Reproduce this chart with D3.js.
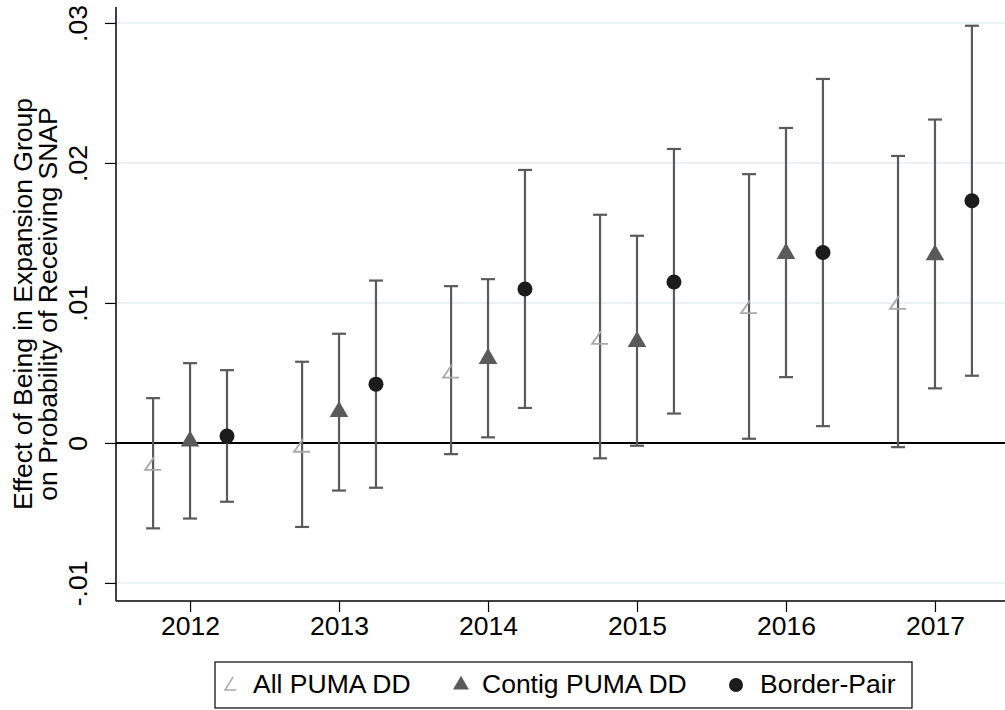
<!DOCTYPE html>
<html>
<head>
<meta charset="utf-8">
<script src="https://cdn.jsdelivr.net/npm/d3@7"></script>
<style>
  body { margin: 0; background: #fff; }
  text { font-family: "Liberation Sans", Arial, sans-serif; }
</style>
</head>
<body>
<div id="chart"></div>
<script>
const width = 1005;
const height = 710;

// years and estimates (point, ci low, ci high)
const years = [2012, 2013, 2014, 2015, 2016, 2017];
const allPuma = [-0.0015, -0.0002, 0.0051, 0.0075, 0.0097, 0.0100];
const allPumaLo = [-0.0061, -0.0060, -0.0008, -0.0011, 0.0003, -0.0003];
const allPumaHi = [0.0032, 0.0058, 0.0112, 0.0163, 0.0192, 0.0205];
const contig = [0.0002, 0.0023, 0.0061, 0.0073, 0.0136, 0.0135];
const contigLo = [-0.0054, -0.0034, 0.0004, -0.0002, 0.0047, 0.0039];
const contigHi = [0.0057, 0.0078, 0.0117, 0.0148, 0.0225, 0.0231];
const border = [0.0005, 0.0042, 0.0110, 0.0115, 0.0136, 0.0173];
const borderLo = [-0.0042, -0.0032, 0.0025, 0.0021, 0.0012, 0.0048];
const borderHi = [0.0052, 0.0116, 0.0195, 0.0210, 0.0260, 0.0298];
const yTicks = [-0.01, 0, 0.01, 0.02, 0.03];
const yTickLabels = ["-.01", "0", ".01", ".02", ".03"];
const seriesNames = ["All PUMA DD", "Contig PUMA DD", "Border-Pair"];

// plot area edges
const plotL = 116, plotT = 7, plotR = 1005, plotB = 601;
const fs = 26.5;

const svg = d3.select("#chart")
  .append("svg")
  .attr("width", width)
  .attr("height", height);

const x = d3.scaleLinear()
  .domain([2011.503, 2017.47])
  .range([plotL, plotR]);

const y = d3.scaleLinear()
  .domain([-0.01129, 0.03114])
  .range([plotB, plotT]);

// gridlines
svg.append("g")
  .selectAll("line")
  .data(yTicks)
  .join("line")
  .attr("x1", plotL).attr("x2", plotR)
  .attr("y1", d => y(d)).attr("y2", d => y(d))
  .attr("stroke", "#e6eef1")
  .attr("stroke-width", 1.5);

// zero line
svg.append("line")
  .attr("x1", plotL).attr("x2", plotR)
  .attr("y1", y(0)).attr("y2", y(0))
  .attr("stroke", "#000")
  .attr("stroke-width", 2);

// y axis
const yAxis = svg.append("g")
  .attr("transform", `translate(${plotL},0)`)
  .call(d3.axisLeft(y).tickValues(yTicks).tickSize(11).tickFormat((d, i) => yTickLabels[i]));
yAxis.attr("font-size", fs).attr("font-family", null);
yAxis.select(".domain").attr("stroke", "#000").attr("stroke-width", 1.5)
  .attr("d", `M0,${plotT}V${plotB}`);
yAxis.selectAll(".tick line").attr("stroke", "#000").attr("stroke-width", 1.2);
yAxis.selectAll(".tick text")
  .attr("fill", "#000")
  .attr("text-anchor", "middle")
  .attr("x", 0).attr("dy", 0)
  .attr("transform", "translate(-29,0) rotate(-90)");

// x axis
const xAxis = svg.append("g")
  .attr("transform", `translate(0,${plotB})`)
  .call(d3.axisBottom(x).tickValues(years).tickSize(11).tickFormat(d3.format("d")));
xAxis.attr("font-size", fs).attr("font-family", null);
xAxis.select(".domain").attr("stroke", "#000").attr("stroke-width", 1.5)
  .attr("d", `M${plotL},0H${plotR}`);
xAxis.selectAll(".tick line").attr("stroke", "#000").attr("stroke-width", 1.2);
xAxis.selectAll(".tick text")
  .attr("fill", "#000")
  .attr("y", 34).attr("dy", 0);

// y title
const ytitle = svg.append("text")
  .attr("transform", `translate(32,${(plotT + plotB) / 2}) rotate(-90)`)
  .attr("text-anchor", "middle")
  .attr("font-size", fs)
  .attr("fill", "#000");
ytitle.append("tspan").attr("x", 0).attr("dy", 0).text("Effect of Being in Expansion Group");
ytitle.append("tspan").attr("x", 0).attr("dy", 25).text("on Probability of Receiving SNAP");

// series
const offset = 0.248;
const series = [
  { pts: allPuma, lo: allPumaLo, hi: allPumaHi, off: -offset, kind: "hollow" },
  { pts: contig, lo: contigLo, hi: contigHi, off: 0, kind: "triangle" },
  { pts: border, lo: borderLo, hi: borderHi, off: offset, kind: "circle" }
];

function drawMarker(g, kind, cx, cy) {
  if (kind === "hollow") {
    g.append("path")
      .attr("d", `M${cx + 1},${cy - 7}L${cx - 8},${cy + 6}L${cx + 8},${cy + 6}`)
      .attr("fill", "none")
      .attr("stroke", "#a9a9a9")
      .attr("stroke-width", 1.8);
  } else if (kind === "triangle") {
    g.append("path")
      .attr("d", d3.symbol().type(d3.symbolTriangle).size(150)())
      .attr("transform", `translate(${cx},${cy + 1})`)
      .attr("fill", "#5a5a5a");
  } else {
    g.append("circle")
      .attr("cx", cx).attr("cy", cy).attr("r", 7.5)
      .attr("fill", "#1c1c1c");
  }
}

series.forEach(s => {
  const g = svg.append("g");
  years.forEach((yr, i) => {
    const cx = x(yr + s.off);
    g.append("line")
      .attr("x1", cx).attr("x2", cx)
      .attr("y1", y(s.lo[i])).attr("y2", y(s.hi[i]))
      .attr("stroke", "#5a5a5a").attr("stroke-width", 2.2);
    [s.lo[i], s.hi[i]].forEach(v => {
      g.append("line")
        .attr("x1", cx - 7).attr("x2", cx + 7)
        .attr("y1", y(v)).attr("y2", y(v))
        .attr("stroke", "#5a5a5a").attr("stroke-width", 2.2);
    });
    drawMarker(g, s.kind, cx, y(s.pts[i]));
  });
});

// legend
const legend = svg.append("g");
legend.append("rect")
  .attr("x", 215).attr("y", 662)
  .attr("width", 697).attr("height", 46)
  .attr("fill", "#fff")
  .attr("stroke", "#000")
  .attr("stroke-width", 1.2);

const legendX = [225, 461, 736];
const legendTextX = [253, 482, 760];
seriesNames.forEach((name, i) => {
  const lg = legend.append("g");
  if (i === 0) {
    lg.append("path")
      .attr("d", `M${legendX[i] + 8},${677}L${legendX[i]},${690}L${legendX[i] + 11},${690}`)
      .attr("fill", "none").attr("stroke", "#a9a9a9").attr("stroke-width", 1.5);
  } else if (i === 1) {
    lg.append("path")
      .attr("d", d3.symbol().type(d3.symbolTriangle).size(110)())
      .attr("transform", `translate(${legendX[i]},685)`)
      .attr("fill", "#5a5a5a");
  } else {
    lg.append("circle").attr("cx", legendX[i]).attr("cy", 685).attr("r", 7).attr("fill", "#1c1c1c");
  }
  lg.append("text")
    .attr("x", legendTextX[i]).attr("y", 693)
    .attr("font-size", fs)
    .attr("fill", "#000")
    .text(name);
});
</script>
</body>
</html>
